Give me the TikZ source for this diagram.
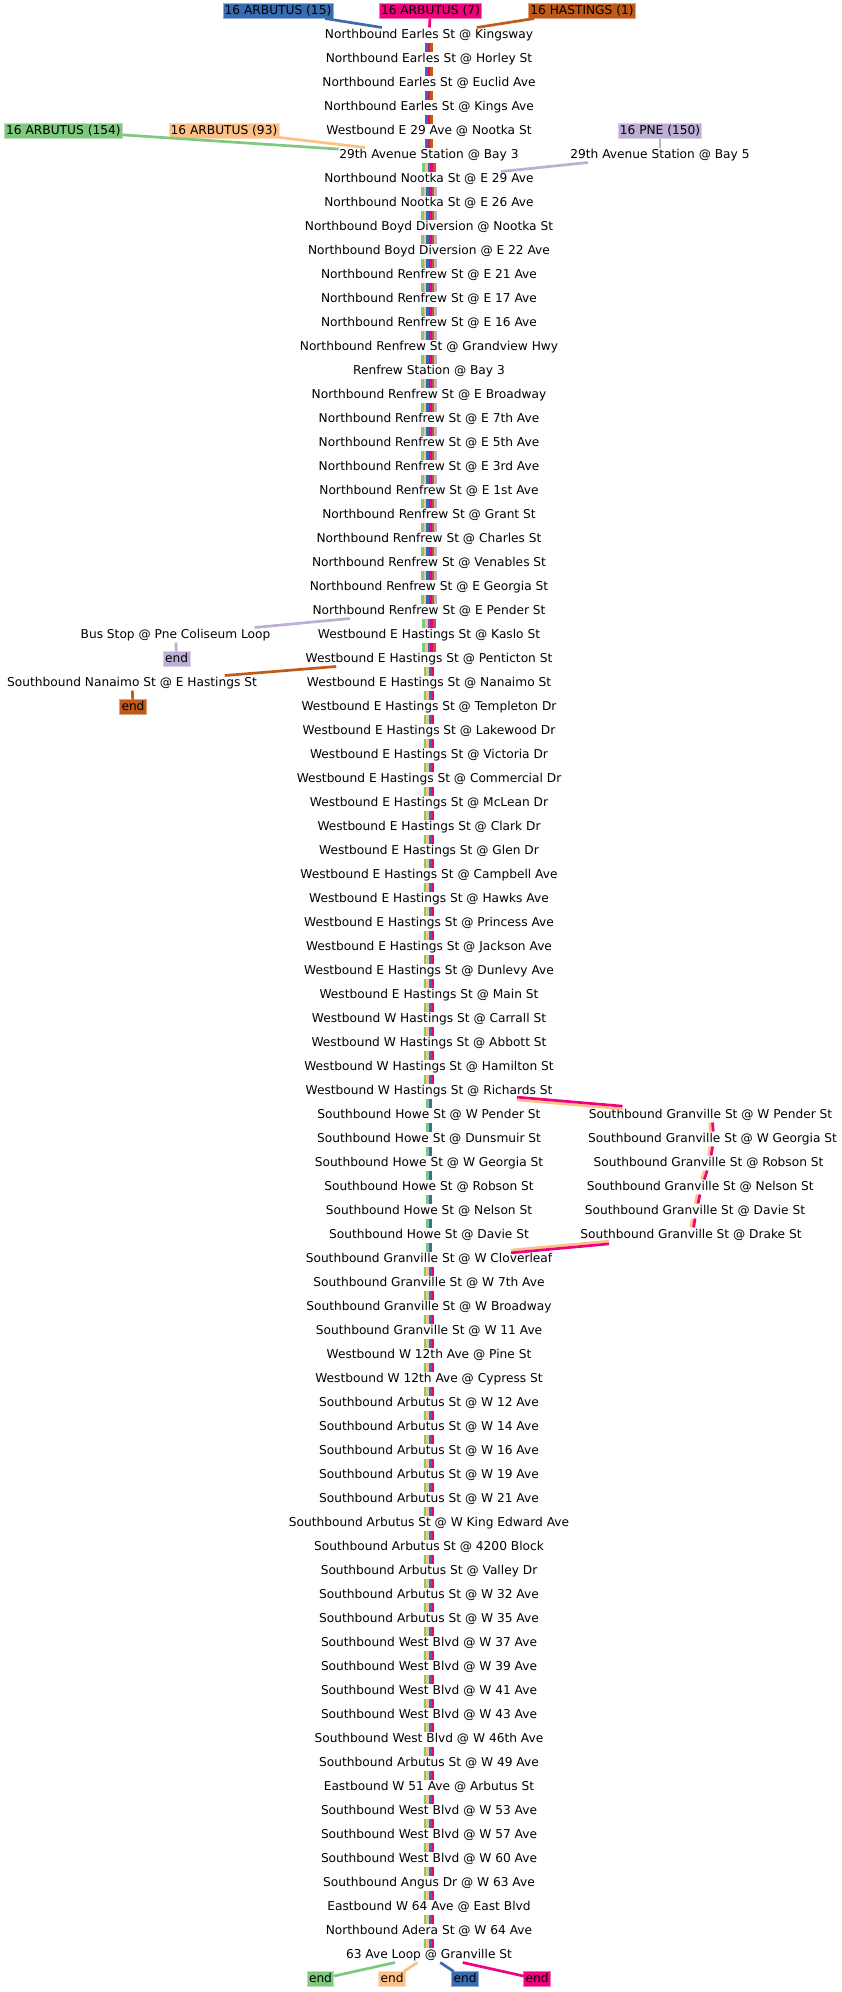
\documentclass[tikz,border=0pt]{standalone}
\usepackage{fontspec}
\setmainfont{DejaVu Sans}
\usepackage{tikz}
\definecolor{rG}{HTML}{7FC97F}
\definecolor{rO}{HTML}{FDC086}
\definecolor{rB}{HTML}{386CB0}
\definecolor{rP}{HTML}{F0027F}
\definecolor{rR}{HTML}{BF5B17}
\definecolor{rV}{HTML}{BEAED4}

\begin{document}
\begin{tikzpicture}[
  x=1pt, y=1pt,
  font=\fontsize{12.2pt}{14pt}\selectfont,
  stop/.style={inner sep=0.75pt, outer sep=0pt, text height=10pt, text depth=3.5pt},
  tag/.style={stop, inner xsep=1.7pt, fill=#1, draw=#1!55!white, line width=0.7pt},
  bar/.style={line width=2.7pt, draw=#1}
]
  \useasboundingbox (0,0) rectangle (842,-1992);
  % main column of stops
  \foreach \name [count=\i] in {Northbound Earles St @ Kingsway, Northbound Earles St @ Horley St,
    Northbound Earles St @ Euclid Ave, Northbound Earles St @ Kings Ave, Westbound E 29 Ave @ Nootka St,
    29th Avenue Station @ Bay 3, Northbound Nootka St @ E 29 Ave, Northbound Nootka St @ E 26 Ave,
    Northbound Boyd Diversion @ Nootka St, Northbound Boyd Diversion @ E 22 Ave,
    Northbound Renfrew St @ E 21 Ave, Northbound Renfrew St @ E 17 Ave, Northbound Renfrew St @ E 16 Ave,
    Northbound Renfrew St @ Grandview Hwy, Renfrew Station @ Bay 3, Northbound Renfrew St @ E Broadway,
    Northbound Renfrew St @ E 7th Ave, Northbound Renfrew St @ E 5th Ave, Northbound Renfrew St @ E 3rd Ave,
    Northbound Renfrew St @ E 1st Ave, Northbound Renfrew St @ Grant St, Northbound Renfrew St @ Charles St,
    Northbound Renfrew St @ Venables St, Northbound Renfrew St @ E Georgia St, Northbound Renfrew St @ E Pender St,
    Westbound E Hastings St @ Kaslo St, Westbound E Hastings St @ Penticton St, Westbound E Hastings St @ Nanaimo St,
    Westbound E Hastings St @ Templeton Dr, Westbound E Hastings St @ Lakewood Dr, Westbound E Hastings St @ Victoria Dr,
    Westbound E Hastings St @ Commercial Dr, Westbound E Hastings St @ McLean Dr, Westbound E Hastings St @ Clark Dr,
    Westbound E Hastings St @ Glen Dr, Westbound E Hastings St @ Campbell Ave, Westbound E Hastings St @ Hawks Ave,
    Westbound E Hastings St @ Princess Ave, Westbound E Hastings St @ Jackson Ave, Westbound E Hastings St @ Dunlevy Ave,
    Westbound E Hastings St @ Main St, Westbound W Hastings St @ Carrall St, Westbound W Hastings St @ Abbott St,
    Westbound W Hastings St @ Hamilton St, Westbound W Hastings St @ Richards St,
    Southbound Howe St @ W Pender St, Southbound Howe St @ Dunsmuir St, Southbound Howe St @ W Georgia St,
    Southbound Howe St @ Robson St, Southbound Howe St @ Nelson St, Southbound Howe St @ Davie St,
    Southbound Granville St @ W Cloverleaf, Southbound Granville St @ W 7th Ave, Southbound Granville St @ W Broadway,
    Southbound Granville St @ W 11 Ave, Westbound W 12th Ave @ Pine St, Westbound W 12th Ave @ Cypress St,
    Southbound Arbutus St @ W 12 Ave, Southbound Arbutus St @ W 14 Ave, Southbound Arbutus St @ W 16 Ave,
    Southbound Arbutus St @ W 19 Ave, Southbound Arbutus St @ W 21 Ave, Southbound Arbutus St @ W King Edward Ave,
    Southbound Arbutus St @ 4200 Block, Southbound Arbutus St @ Valley Dr, Southbound Arbutus St @ W 32 Ave,
    Southbound Arbutus St @ W 35 Ave, Southbound West Blvd @ W 37 Ave, Southbound West Blvd @ W 39 Ave,
    Southbound West Blvd @ W 41 Ave, Southbound West Blvd @ W 43 Ave, Southbound West Blvd @ W 46th Ave,
    Southbound Arbutus St @ W 49 Ave, Eastbound W 51 Ave @ Arbutus St, Southbound West Blvd @ W 53 Ave,
    Southbound West Blvd @ W 57 Ave, Southbound West Blvd @ W 60 Ave, Southbound Angus Dr @ W 63 Ave,
    Eastbound W 64 Ave @ East Blvd, Northbound Adera St @ W 64 Ave, 63 Ave Loop @ Granville St}
    \node[stop] (s\i) at (429,-11-24*\i) {\name};

  % side stops
  \node[stop] (bay5) at (660,-155) {29th Avenue Station @ Bay 5};
  \node[stop] (pne) at (175.5,-635) {Bus Stop @ Pne Coliseum Loop};
  \node[stop] (nanaimo) at (132,-683) {Southbound Nanaimo St @ E Hastings St};
  \node[stop] (g1) at (710.5,-1115) {Southbound Granville St @ W Pender St};
  \node[stop] (g2) at (712.5,-1139) {Southbound Granville St @ W Georgia St};
  \node[stop] (g3) at (708.5,-1163) {Southbound Granville St @ Robson St};
  \node[stop] (g4) at (700.3,-1187) {Southbound Granville St @ Nelson St};
  \node[stop] (g5) at (695,-1211) {Southbound Granville St @ Davie St};
  \node[stop] (g6) at (691,-1235) {Southbound Granville St @ Drake St};

  % route tags and ends
  \node[tag=rB] (tB) at (278,-11) {16 ARBUTUS (15)};
  \node[tag=rP] (tP) at (430.4,-11) {16 ARBUTUS (7)};
  \node[tag=rR] (tR) at (582,-11) {16 HASTINGS (1)};
  \node[tag=rG] (tG) at (63.4,-131) {16 ARBUTUS (154)};
  \node[tag=rO] (tO) at (224,-131) {16 ARBUTUS (93)};
  \node[tag=rV] (tV) at (660,-131) {16 PNE (150)};
  \node[tag=rV] (eV) at (176.7,-659) {end};
  \node[tag=rR] (eR) at (133,-707) {end};
  \node[tag=rG] (eG) at (320.5,-1979) {end};
  \node[tag=rO] (eO) at (392,-1979) {end};
  \node[tag=rB] (eB) at (465,-1979) {end};
  \node[tag=rP] (eP) at (537,-1979) {end};

  % bundles down the main column
  \foreach \i [count=\j from 2] in {1,...,5}
    \foreach \c/\dx in {rB/-2.7,rP/0,rR/2.7}
      \draw[bar=\c, transform canvas={xshift=\dx pt}] (s\i) -- (s\j);
  \foreach \c/\dx in {rG/-5.4,rO/-2.7,rB/0,rP/2.7,rR/5.4}
    \draw[bar=\c, transform canvas={xshift=\dx pt}] (s6) -- (s7);
  \foreach \i [count=\j from 8] in {7,...,24}
    \foreach \c/\dx in {rG/-6.75,rO/-4.05,rB/-1.35,rP/1.35,rR/4.05,rV/6.75}
      \draw[bar=\c, transform canvas={xshift=\dx pt}] (s\i) -- (s\j);
  \foreach \i [count=\j from 26] in {25,26}
    \foreach \c/\dx in {rG/-5.4,rO/-2.7,rB/0,rP/2.7,rR/5.4}
      \draw[bar=\c, transform canvas={xshift=\dx pt}] (s\i) -- (s\j);
  \foreach \i [count=\j from 28] in {27,...,44}
    \foreach \c/\dx in {rG/-4.05,rO/-1.35,rB/1.35,rP/4.05}
      \draw[bar=\c, transform canvas={xshift=\dx pt}] (s\i) -- (s\j);
  \foreach \i [count=\j from 46] in {45,...,51}
    \foreach \c/\dx in {rG/-1.35,rB/1.35}
      \draw[bar=\c, transform canvas={xshift=\dx pt}] (s\i) -- (s\j);
  \foreach \i [count=\j from 53] in {52,...,80}
    \foreach \c/\dx in {rG/-4.05,rO/-1.35,rB/1.35,rP/4.05}
      \draw[bar=\c, transform canvas={xshift=\dx pt}] (s\i) -- (s\j);

  % Granville branch
  \draw[bar=rO, transform canvas={yshift=-1.35pt}] (s45) -- (g1);
  \draw[bar=rP, transform canvas={yshift=1.35pt}] (s45) -- (g1);
  \foreach \i [count=\j from 2] in {1,...,5} {
    \draw[bar=rO, transform canvas={xshift=-1.35pt}] (g\i) -- (g\j);
    \draw[bar=rP, transform canvas={xshift=1.35pt}] (g\i) -- (g\j);
  }
  \draw[bar=rO, transform canvas={yshift=1.35pt}] (g6) -- (s52);
  \draw[bar=rP, transform canvas={yshift=-1.35pt}] (g6) -- (s52);

  % starts and ends
  \draw[bar=rB] (tB) -- (s1);
  \draw[bar=rP] (tP) -- (s1);
  \draw[bar=rR] (tR) -- (s1);
  \draw[bar=rG] (tG) -- (s6);
  \draw[bar=rO] (tO) -- (s6);
  \draw[bar=rV] (tV) -- (bay5);
  \draw[bar=rV] (bay5) -- (s7);
  \draw[bar=rV] (s25) -- (pne);
  \draw[bar=rV] (pne) -- (eV);
  \draw[bar=rR] (s27) -- (nanaimo);
  \draw[bar=rR] (nanaimo) -- (eR);
  \draw[bar=rG] (s81) -- (eG);
  \draw[bar=rO] (s81) -- (eO);
  \draw[bar=rB] (s81) -- (eB);
  \draw[bar=rP] (s81) -- (eP);
\end{tikzpicture}
\end{document}
